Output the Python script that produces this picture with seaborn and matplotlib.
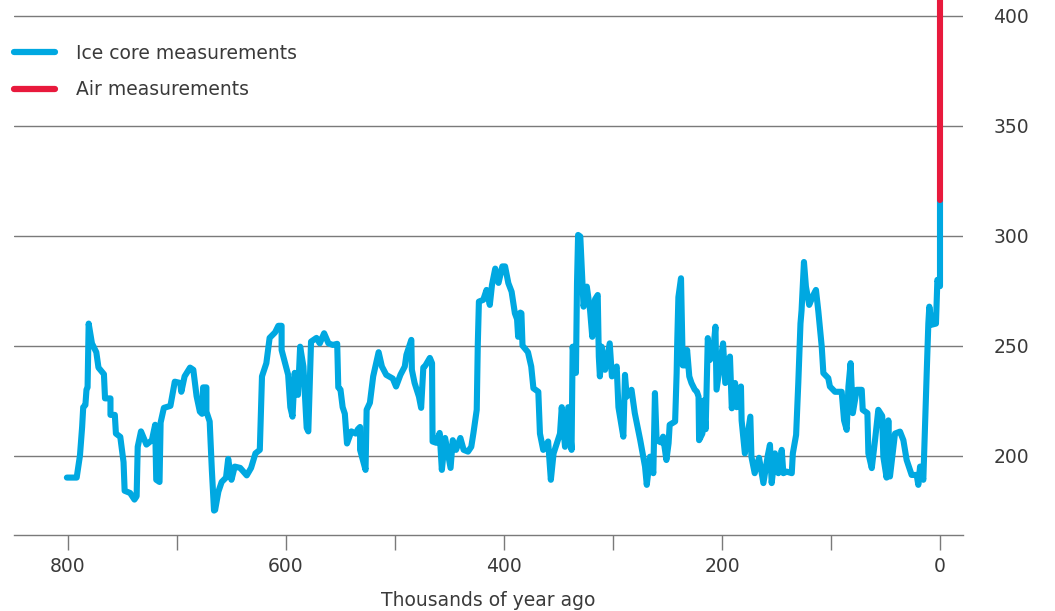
import numpy as np
import pandas as pd
import matplotlib
matplotlib.use('Agg')
import matplotlib.pyplot as plt
import seaborn as sns

# -------------------------
# Data (thousands of years ago, CO2 ppm)
# -------------------------
ice_age = [801, 792, 789, 787, 786, 784, 783, 782, 781, 778, 774, 772, 767, 766, 761, 761, 757, 756, 752,
           749, 748, 743, 739, 737, 736, 733, 728, 723, 720, 719, 716, 715, 712, 706, 702, 697, 696, 693,
           688, 685, 682, 679, 677, 676, 673, 673, 670, 668, 666, 665, 662, 659, 655, 653, 650, 647, 642,
           636, 632, 628, 624, 622, 618, 615, 610, 607, 604, 604, 598, 596, 594, 592, 589, 587, 584, 581,
           579.5, 577, 572, 569, 565, 561, 557, 553, 552, 550, 548, 546, 544, 540, 536, 534, 532, 532, 527,
           526, 523, 520, 515, 512, 508, 502, 499, 495, 491, 489.5, 485, 484.5, 482, 478, 476, 474, 472,
           468, 466, 465.5, 462, 459, 457, 454, 451, 449, 447, 444, 440, 437, 433, 430, 428, 425, 424, 423,
           419, 416, 413, 411, 408, 405, 401.5, 399, 396, 393, 390, 388, 387, 385, 384, 383, 378, 375, 373,
           368.5, 367, 364, 359.5, 357, 354.5, 348.6, 347, 344, 341, 338, 337, 334, 333, 332, 330, 327, 324,
           321, 319, 316.5, 314, 313, 312, 310.4, 307.3, 303, 301, 296.6, 295, 290.5, 289, 287.4, 283, 280,
           275, 270.6, 269, 266, 263, 261.5, 260, 256, 254, 251, 249, 248, 243, 241.6, 241, 240, 237.6, 236,
           234, 232, 230, 228, 225, 223, 221.5, 221, 218, 217, 215, 213, 211, 208, 206, 205, 202, 199, 197,
           192.7, 191, 188, 186.5, 182.6, 182, 179, 174, 173, 170, 166, 162, 158, 156, 154.4, 151.4, 148.3,
           145.2, 143.7, 140.6, 136, 135, 132, 130, 128, 127, 124.8, 123, 120, 116.2, 113.8, 111.6, 108.5,
           107, 102.5, 101, 96.3, 90.2, 88, 85.6, 84, 82, 80, 76.4, 71.8, 70.9, 66.6, 65.7, 62.6, 59.6,
           56.6, 53, 52, 49, 47.4, 45.9, 41.3, 36.7, 33.6, 30.6, 26, 21.4, 19.9, 18.3, 15.3, 13.8, 12.2,
           10.7, 9.8, 7.6, 3.7, 2.4, 1.0, 0.0, 0.0]
ice_co2 = [190, 190, 200, 213, 222, 223, 230, 231, 260, 251, 247, 240, 237, 226, 226, 218.5, 218.5, 210, 208.5,
           197, 184, 183, 180, 181.5, 204, 211, 205, 207, 214, 189, 188, 215, 221.7, 222.6, 233.6, 233, 229, 236,
           240, 239, 227, 220, 219, 231, 231, 220, 215.5, 193.5, 175, 175.3, 183.6, 188, 190, 198.5, 189, 195, 194.4,
           191, 194.4, 201, 202.6, 236, 242, 253.5, 256, 259, 259, 248, 236.7, 222, 217.7, 237.6, 227.6, 249.5, 240.5, 212.6,
           211, 251.8, 253.5, 251, 255.6, 251, 250.3, 250.8, 231, 230, 222, 219, 205.5, 211, 210, 212, 213, 202.6, 193.5,
           220.8, 224, 236, 247, 240.5, 236.7, 235, 231.4, 236.7, 240.5, 245.8, 252.6, 239, 233, 226.8, 221.7, 240, 241,
           244.4, 242, 206.4, 205.8, 210.3, 193.5, 208, 200, 194.4, 207, 202.6, 208, 202.6, 201.8, 204, 210.3, 220.8, 251, 270,
           270.8, 275.3, 268.5, 277.6, 285, 278.5, 286, 286, 278.4, 274.5, 264.7, 262, 254, 265, 264.7, 250, 247, 240.5, 230.6,
           229, 210, 202.6, 206.4, 189, 201, 210, 222, 204, 222, 202.6, 249.5, 237.6, 278.4, 300.3, 299.6, 267.7, 276.8,
           266, 254, 271, 273, 245, 236, 249.5, 239, 251, 236, 240.5, 222, 208.6, 236.7, 226.8, 229.9, 219.3,
           207, 195, 186.7, 199.5, 192, 228.4, 207, 206, 208.6, 198, 205.6, 214, 215.5, 237.5, 252.6, 272, 280.6, 241,
           241, 248, 236, 233, 230, 229, 226.8, 207, 210, 225, 212, 253.4, 243.5, 248, 258.6, 230, 240.5, 251, 233,
           245, 221.5, 233, 222, 231.4, 216, 201, 217.7, 199.5, 192, 199, 187.5, 200, 204.9, 187.5, 201, 192,
           202.6, 192, 192.7, 192, 201, 209.4, 233, 260, 266, 288, 276.8, 268.5, 273, 275.3, 265.5, 249.5,
           237.5, 235.2, 231.4, 229, 229, 216, 211.7, 231.4, 242, 219.3, 229.9, 229.9, 220.8, 219.3, 201, 194.3, 207,
           220.8, 218, 199.5, 190, 216, 190.5, 210, 210.9, 207, 198, 191.2, 191.2, 186.7, 195, 189, 213, 237.5,
           260, 267.7, 259.5, 260, 279.9, 278, 277, 316]

air_age = [0.0, 0.0]
air_co2 = [316, 412]

ice = pd.DataFrame({'age': ice_age, 'co2': ice_co2, 'series': 'Ice core measurements'})
air = pd.DataFrame({'age': air_age, 'co2': air_co2, 'series': 'Air measurements'})
df = pd.concat([ice, air], ignore_index=True)

BLUE = '#00a8e1'
RED = '#e8193c'
TEXT = '#3a3a3a'
GRID = '#7a7a7a'
FS = 13.5

sns.set_style('white')
plt.rcParams['font.family'] = ['DejaVu Sans']

fig = plt.figure(figsize=(10.55, 6.11), dpi=100)
ax = fig.add_axes([14 / 1055, 76 / 611, 949 / 1055, 535 / 611])

for y in [200, 250, 300, 350, 400]:
    ax.axhline(y, color=GRID, lw=1.0, zorder=0)

sns.lineplot(data=df, x='age', y='co2', hue='series', palette=[BLUE, RED],
             sort=False, estimator=None, lw=4.4, ax=ax, legend=True)

ax.set_xlim(849.5, -21.1)
ax.set_ylim(163.9, 407.1)

# axes styling
for side in ['top', 'left', 'right']:
    ax.spines[side].set_visible(False)
ax.spines['bottom'].set_color(GRID)
ax.spines['bottom'].set_linewidth(1.0)

ax.yaxis.tick_right()
ax.set_yticks([200, 250, 300, 350, 400])
ax.tick_params(axis='y', length=0, pad=22, labelsize=FS, labelcolor=TEXT)
ax.set_xticks([800, 600, 400, 200, 0])
ax.set_xticks([700, 500, 300, 100], minor=True)
ax.tick_params(axis='x', which='both', direction='out', length=11, width=1.0, color=GRID,
               pad=4.5, labelsize=FS, labelcolor=TEXT, bottom=True)
ax.set_ylabel('')
ax.set_xlabel('Thousands of year ago', fontsize=FS, color=TEXT, labelpad=11)

handles, labels = ax.get_legend_handles_labels()
leg = ax.legend(handles, labels, loc='upper left', bbox_to_anchor=(0, 0.918), frameon=False,
                fontsize=FS, handlelength=2.2, handletextpad=1.1, labelspacing=0.93,
                borderpad=0, borderaxespad=0)
for t in leg.get_texts():
    t.set_color(TEXT)
for h in leg.get_lines():
    h.set_linewidth(4.5)

fig.savefig('out.png', dpi=100)
